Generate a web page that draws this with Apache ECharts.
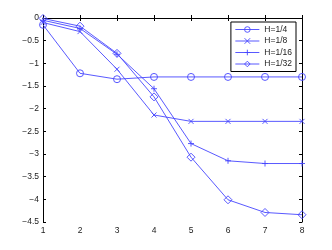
<!DOCTYPE html>
<html><head><meta charset="utf-8">
<script src="https://cdn.jsdelivr.net/npm/echarts@6/dist/echarts.min.js"></script>
<style>html,body{margin:0;padding:0;background:#fff}#c{width:332px;height:250px}</style>
</head><body><div id="c"></div>
<script>
var categories = [1, 2, 3, 4, 5, 6, 7, 8];
var seriesNames = ['H=1/4', 'H=1/8', 'H=1/16', 'H=1/32'];
var h4  = [-0.15, -1.22, -1.35, -1.30, -1.30, -1.30, -1.30, -1.30];
var h8  = [-0.10, -0.30, -1.13, -2.14, -2.28, -2.28, -2.28, -2.28];
var h16 = [-0.05, -0.23, -0.80, -1.56, -2.77, -3.15, -3.21, -3.21];
var h32 = [-0.01, -0.18, -0.78, -1.74, -3.07, -4.01, -4.29, -4.34];
var yTicks = [0, -0.5, -1, -1.5, -2, -2.5, -3, -3.5, -4, -4.5];

var blue = '#4646ff';
var symO = 'path://M10,5A5,5 0 1 1 0,5A5,5 0 1 1 10,5Z';
var symX = 'path://M0,0L10,10M10,0L0,10';
var symP = 'path://M5,0L5,10M0,5L10,5';
var symD = 'path://M5,0L10,5L5,10L0,5Z';
var symbols = [symO, symX, symP, symD];
var sizes = [7, 5, 6, 8];
var datas = [h4, h8, h16, h32];

function pairs(arr){ return categories.map(function(x,i){ return [x, arr[i]]; }); }

var series = datas.map(function(d, i){
  return {
    name: seriesNames[i], type: 'line', data: pairs(d),
    symbol: symbols[i], symbolSize: sizes[i], showAllSymbol: true,
    lineStyle: {color: blue, width: 0.9},
    itemStyle: {color: 'rgba(0,0,0,0)', borderColor: blue, borderWidth: 0.9},
    emphasis: {disabled: true}, animation: false
  };
});

var font = {fontFamily: 'Liberation Sans, Arial, sans-serif', fontSize: 8.5, color: '#222'};
var chart = echarts.init(document.getElementById('c'), null, {renderer: 'canvas'});
chart.setOption({
  animation: false,
  grid: {left: 43, right: 30, top: 18, bottom: 28, containLabel: false},
  xAxis: [
    {type: 'value', min: 1, max: 8, interval: 1, position: 'bottom',
     axisLine: {lineStyle: {color: '#000', width: 1}},
     axisTick: {inside: true, length: 3, lineStyle: {color: '#000'}},
     axisLabel: Object.assign({margin: 4}, font), splitLine: {show: false}},
    {type: 'value', min: 1, max: 8, interval: 1, position: 'top',
     axisLine: {lineStyle: {color: '#000', width: 1}},
     axisTick: {inside: true, length: 3, lineStyle: {color: '#000'}},
     axisLabel: {show: false}, splitLine: {show: false}}
  ],
  yAxis: [
    {type: 'value', min: -4.5, max: 0, interval: 0.5, position: 'left',
     axisLine: {show: true, lineStyle: {color: '#000', width: 1}},
     axisTick: {show: true, inside: true, length: 3, lineStyle: {color: '#000'}},
     axisLabel: Object.assign({margin: 4, formatter: function(v){ return v === 0 ? '0' : String(v).replace('-', '\u2212'); }}, font),
     splitLine: {show: false}},
    {type: 'value', min: -4.5, max: 0, interval: 0.5, position: 'right',
     axisLine: {show: true, lineStyle: {color: '#000', width: 1}},
     axisTick: {show: true, inside: true, length: 3, lineStyle: {color: '#000'}},
     axisLabel: {show: false}, splitLine: {show: false}}
  ],
  legend: {
    orient: 'vertical', right: 36, top: 22, data: seriesNames,
    itemWidth: 24, itemHeight: 7, itemGap: 2.5, padding: [3, 4, 3, 4],
    borderColor: '#000', borderWidth: 1, backgroundColor: '#fff',
    lineStyle: {width: 0.9},
    itemStyle: {borderWidth: 0.9},
    textStyle: {fontFamily: 'Liberation Sans, Arial, sans-serif', fontSize: 8.5, color: '#222'},
    selectedMode: false
  },
  series: series
});
</script></body></html>
